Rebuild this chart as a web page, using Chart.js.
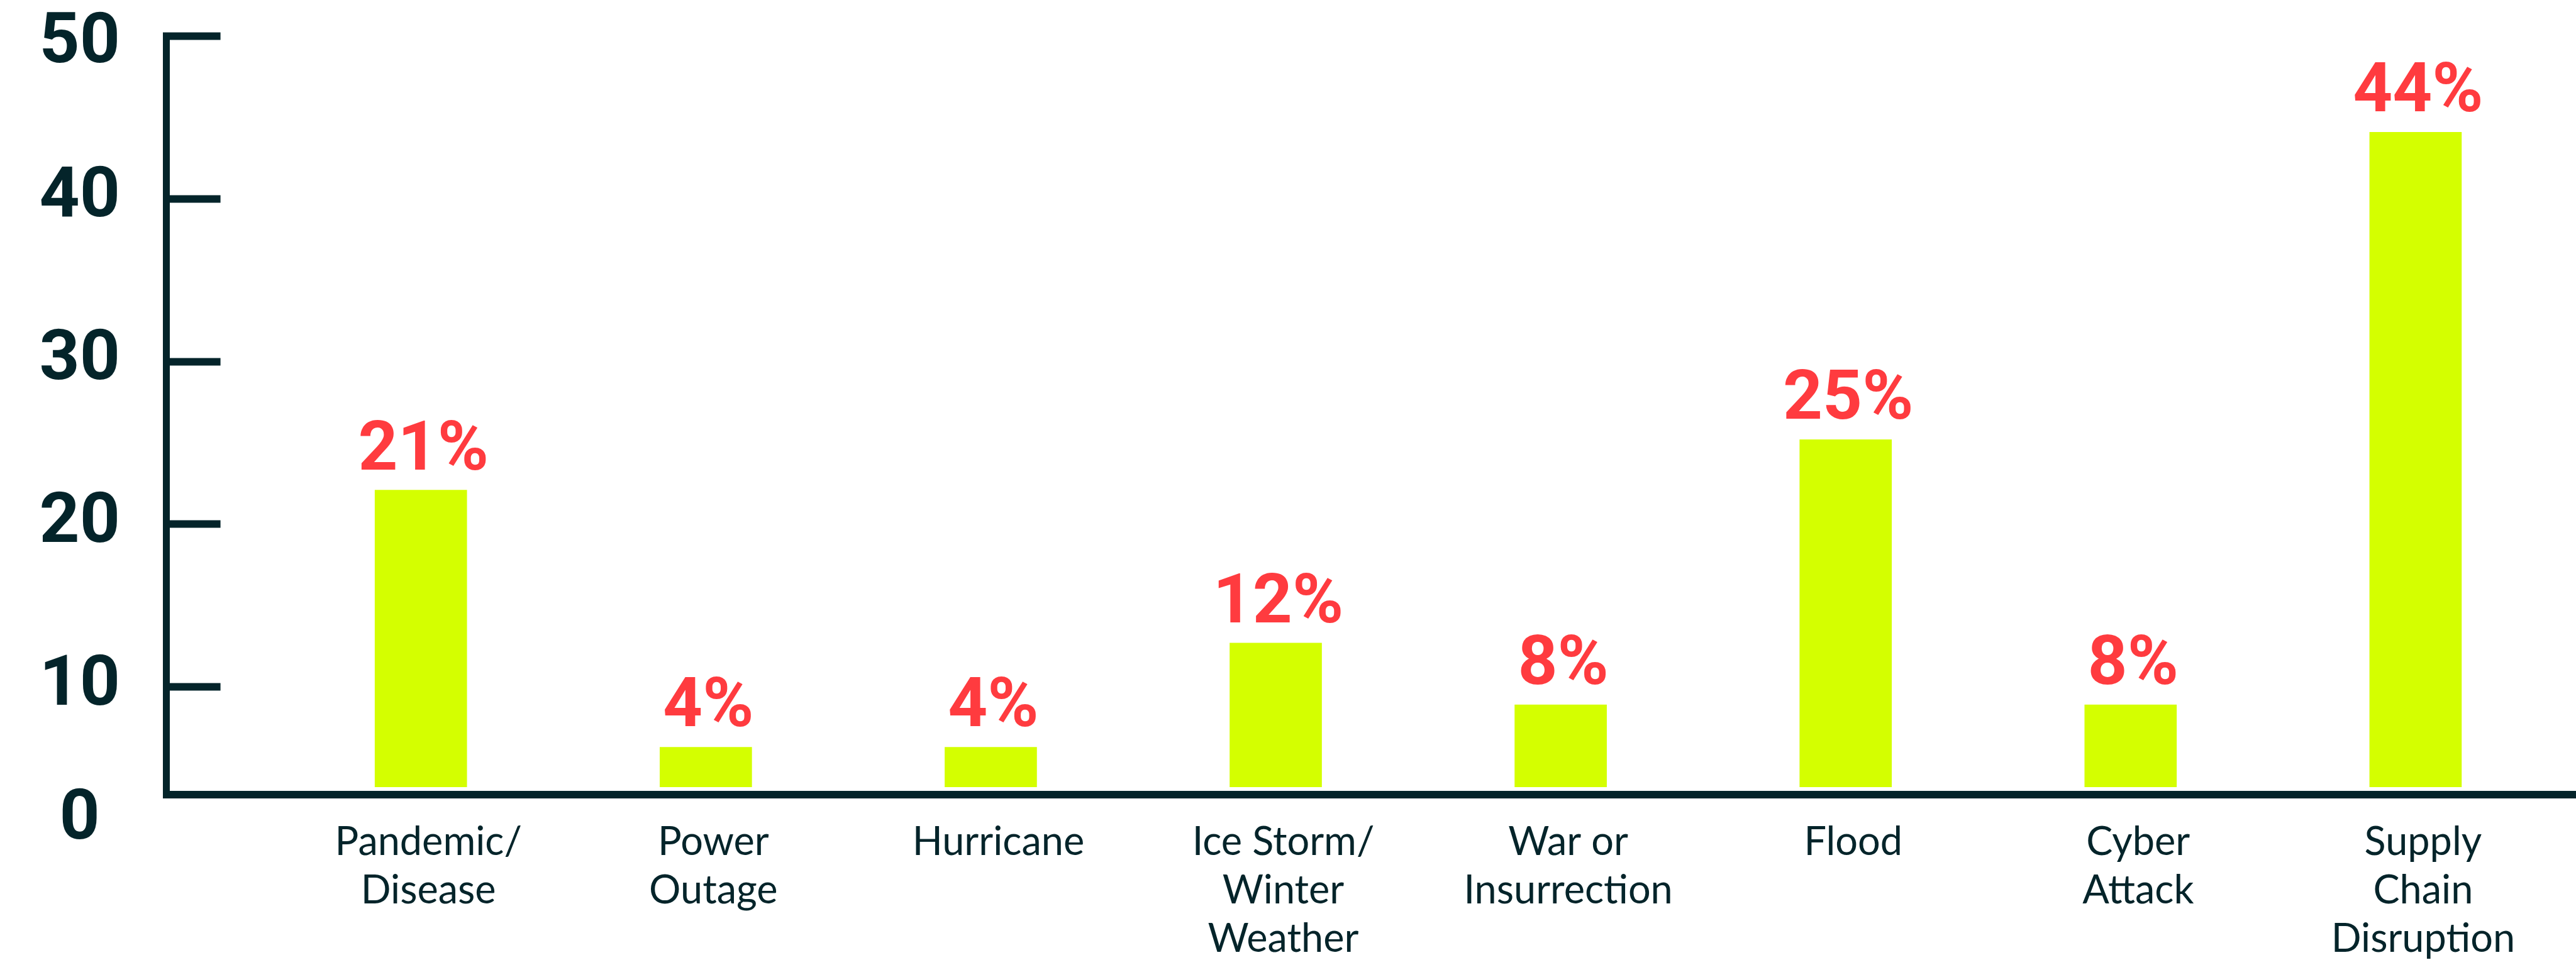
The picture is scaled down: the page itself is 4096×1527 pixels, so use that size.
<!DOCTYPE html>
<html>
<head>
<meta charset="utf-8">
<script src="https://cdn.jsdelivr.net/npm/chart.js@4.4.0/dist/chart.umd.min.js"></script>
<style>
  html, body { margin: 0; padding: 0; background: #ffffff; overflow: hidden; }
  #wrap { width: 4096px; height: 1527px; position: relative; }
</style>
</head>
<body>
<div id="wrap"><canvas id="c" width="4096" height="1527"></canvas></div>
<script>
// ---- data ----
const categories = [
  ['Pandemic/', 'Disease'],
  ['Power', 'Outage'],
  ['Hurricane'],
  ['Ice Storm/', 'Winter', 'Weather'],
  ['War or', 'Insurrection'],
  ['Flood'],
  ['Cyber', 'Attack'],
  ['Supply', 'Chain', 'Disruption']
];
const barValues = [22.1, 6.3, 6.3, 12.7, 8.9, 25.2, 8.9, 44.1];
const percentLabels = ['21%', '4%', '4%', '12%', '8%', '25%', '8%', '44%'];
const yTickValues = [0, 10, 20, 30, 40, 50];
const yTickLabels = ['0', '10', '20', '30', '40', '50'];

// ---- styles ----
const DARK = '#04242A';
const BAR = '#D4FF00';
const RED = '#FF3B3F';
const Y_MIN = 3.4, Y_MAX = 50, BAR_BASE = 3.86;
const X_MIN = -0.893, X_MAX = 7.563;
// vertical shift (px) of a few y labels relative to their tick
const yLabelShift = { 0: 42.5, 5: 13 };

const pctLabelPlugin = {
  id: 'pctLabels',
  afterDatasetsDraw(chart) {
    const meta = chart.getDatasetMeta(0);
    const ctx = chart.ctx;
    ctx.save();
    ctx.fillStyle = RED;
    ctx.font = '700 110px Roboto';
    ctx.textAlign = 'center';
    ctx.textBaseline = 'alphabetic';
    meta.data.forEach((bar, i) => {
      ctx.fillText(percentLabels[i], bar.x + 4, bar.y - 33);
    });
    ctx.restore();
  }
};

function start() {
  new Chart(document.getElementById('c'), {
    type: 'bar',
    data: {
      datasets: [{
        data: barValues.map((v, i) => ({ x: i, y: v })),
        backgroundColor: BAR,
        borderWidth: 0,
        barThickness: 146,
        base: BAR_BASE
      }]
    },
    options: {
      responsive: false,
      devicePixelRatio: 1,
      animation: false,
      layout: { padding: { top: 57.7, left: 0, right: 0, bottom: 0 } },
      plugins: { legend: { display: false }, tooltip: { enabled: false }, title: { display: false } },
      scales: {
        x: {
          type: 'linear',
          offset: false,
          min: X_MIN,
          max: X_MAX,
          afterBuildTicks: s => { s.ticks = categories.map((_, i) => ({ value: i })); },
          afterFit: s => { s.height = 263.5; },
          grid: { display: false, drawTicks: false, offset: false },
          border: { display: true, color: DARK, width: 12 },
          ticks: {
            autoSkip: false,
            maxRotation: 0,
            minRotation: 0,
            padding: 38,
            labelOffset: 12,
            color: DARK,
            font: { family: 'Lato', size: 63, weight: '400', lineHeight: 1.22 },
            callback: v => categories[v]
          }
        },
        y: {
          type: 'linear',
          min: Y_MIN,
          max: Y_MAX,
          afterBuildTicks: s => { s.ticks = yTickValues.map(v => ({ value: Math.max(v, s.min) })); },
          afterFit: s => { s.width = 264.6; s.paddingTop = 0; s.paddingBottom = 0; },
          border: { display: true, color: DARK, width: 11 },
          grid: {
            display: true,
            drawOnChartArea: false,
            drawTicks: true,
            tickLength: -86,
            color: DARK,
            tickColor: DARK,
            tickWidth: c => (c.tick && c.tick.value >= 10) ? 12 : 0
          },
          ticks: {
            autoSkip: false,
            crossAlign: 'center',
            padding: 159.6,
            color: DARK,
            font: c => {
              const sh = yLabelShift[c.index];
              return { family: 'Roboto', size: 112, weight: '700', lineHeight: sh ? (2 * sh) / 112 : 1 };
            },
            callback: (v, i) => (yLabelShift[i] ? ['', yTickLabels[i]] : yTickLabels[i])
          }
        }
      }
    },
    plugins: [pctLabelPlugin]
  });
}

if (document.fonts && document.fonts.load) {
  Promise.all([
    document.fonts.load('700 112px Roboto'),
    document.fonts.load('400 63px Lato')
  ]).then(start, start);
} else {
  start();
}
</script>
</body>
</html>
